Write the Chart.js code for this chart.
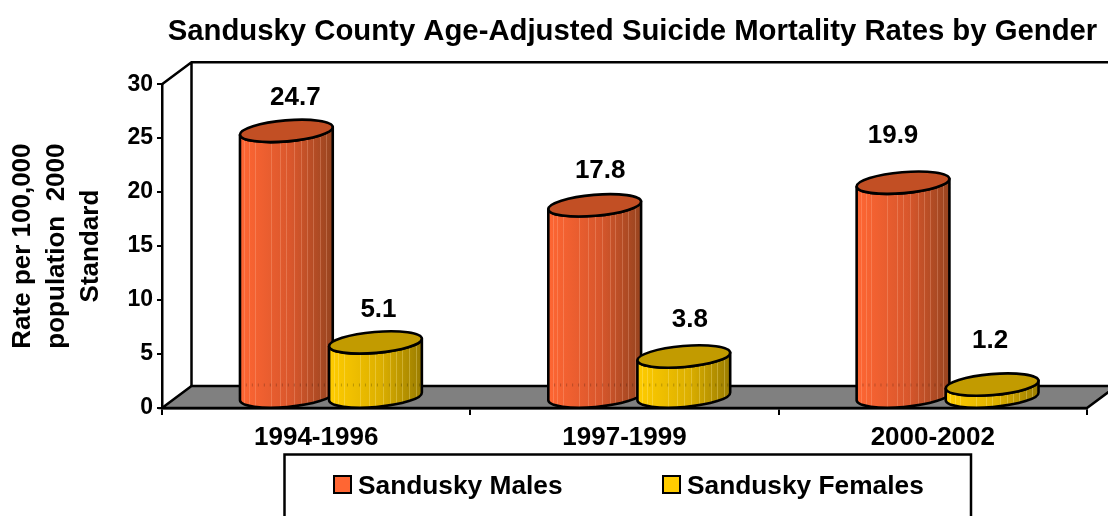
<!DOCTYPE html>
<html><head><meta charset="utf-8">
<style>html,body{margin:0;padding:0;background:#fff;overflow:hidden}#wrap{position:relative;width:1108px;height:516px}</style>
<script src="https://cdn.jsdelivr.net/npm/chart.js@4"></script>
</head><body><div id="wrap"><canvas id="c" width="1108" height="516"></canvas></div>
<script>
const chartTitle = 'Sandusky County Age-Adjusted Suicide Mortality Rates by Gender';
const categories = ['1994-1996', '1997-1999', '2000-2002'];
const seriesNames = ['Sandusky Males', 'Sandusky Females'];
const males = [24.7, 17.8, 19.9];
const females = [5.1, 3.8, 1.2];
const yTitle = ['Rate per 100,000', 'population  2000', 'Standard'];

const FONT = '"Liberation Sans", Arial, sans-serif';
const DEPTH_X = 29.5, DEPTH_Y = 22;
const BODY = [
  {light:'#FF6633', mid:'#D9572C', dark:'#97441F', cap:'#C24F24', stripe:'rgba(255,190,160,.28)'},
  {light:'#FFCC00', mid:'#DDB000', dark:'#9A7C00', cap:'#C29B00', stripe:'rgba(255,240,160,.30)'}
];
const labelNudge = [[[9,-44],[5.5,-45],[-10,-57]],[[3,-43],[6,-47],[-2,-54]]];
const stripeAt = [.05,.1,.16,.33,.43,.5,.58,.66,.72,.79,.86,.93];

function cylinder(ctx, cx, topY, baseY, rx, pal) {
  const ry = 10.5, tilt = -0.085, cy = topY - 10.5, by = baseY - 10.5;
  const ex = rx * Math.cos(tilt), ey = rx * Math.sin(tilt);
  const body = new Path2D();
  body.moveTo(cx - ex, cy - ey);
  body.lineTo(cx - ex, by - ey);
  body.ellipse(cx, by, rx, ry, tilt, Math.PI, 0, true);
  body.lineTo(cx + ex, cy + ey);
  body.ellipse(cx, cy, rx, ry, tilt, 0, Math.PI, false);
  body.closePath();
  ctx.save();
  const g = ctx.createLinearGradient(cx - rx, 0, cx + rx, 0);
  g.addColorStop(0, pal.light); g.addColorStop(.55, pal.mid); g.addColorStop(1, pal.dark);
  ctx.fillStyle = g; ctx.fill(body);
  ctx.save(); ctx.clip(body);
  ctx.strokeStyle = pal.stripe; ctx.lineWidth = 1;
  stripeAt.forEach(s => { const x = Math.round(cx - rx + 2*rx*s) + .5; ctx.beginPath(); ctx.moveTo(x, cy - 20); ctx.lineTo(x, by + 20); ctx.stroke(); });
  ctx.strokeStyle = 'rgba(0,0,0,.22)'; ctx.lineWidth = 3; ctx.setLineDash([1, 5]);
  ctx.beginPath(); ctx.moveTo(cx - rx, baseY - DEPTH_Y); ctx.lineTo(cx + rx, baseY - DEPTH_Y); ctx.stroke();
  ctx.restore();
  ctx.strokeStyle = '#000'; ctx.lineWidth = 2.6; ctx.lineJoin = 'round'; ctx.stroke(body);
  ctx.beginPath(); ctx.ellipse(cx, cy, rx, ry, tilt, 0, Math.PI*2);
  ctx.fillStyle = pal.cap; ctx.fill(); ctx.stroke();
  ctx.restore();
}

const scene = {
  id: 'scene',
  afterLayout(chart) {
    const t = chart.titleBlock, shift = 632.5 - (t.left + t.right) / 2;
    t.left += shift; t.right += shift;
  },
  beforeDatasetsDraw(chart) {
    const {ctx, chartArea: a} = chart;
    const dx = DEPTH_X, dy = DEPTH_Y;
    ctx.save();
    ctx.beginPath();
    ctx.moveTo(a.left, a.bottom); ctx.lineTo(a.left + dx, a.bottom - dy);
    ctx.lineTo(a.right + dx, a.bottom - dy); ctx.lineTo(a.right, a.bottom); ctx.closePath();
    ctx.fillStyle = '#808080'; ctx.fill();
    ctx.strokeStyle = '#000'; ctx.lineWidth = 2.5; ctx.stroke();
    ctx.beginPath();
    ctx.moveTo(a.left, a.top); ctx.lineTo(a.left + dx, a.top - dy); ctx.lineTo(a.right + dx, a.top - dy);
    ctx.moveTo(a.left + dx, a.top - dy); ctx.lineTo(a.left + dx, a.bottom - dy);
    ctx.stroke();
    ctx.restore();
  },
  afterDatasetsDraw(chart) {
    const {ctx} = chart;
    const metas = chart.data.datasets.map((_, i) => chart.getDatasetMeta(i));
    categories.forEach((_, c) => metas.forEach((m, s) => {
      const b = m.data[c];
      cylinder(ctx, b.x + DEPTH_X / 2, b.y, b.base, b.width / 2 + 2, BODY[s]);
    }));
    ctx.save();
    ctx.fillStyle = '#000'; ctx.font = 'bold 26px ' + FONT; ctx.textAlign = 'center'; ctx.textBaseline = 'middle';
    metas.forEach((m, s) => m.data.forEach((b, c) => {
      const n = labelNudge[s][c];
      ctx.fillText(chart.data.datasets[s].data[c].toFixed(1), b.x + DEPTH_X / 2 + n[0], b.y + n[1]);
    }));
    ctx.restore();
    ctx.save();
    ctx.strokeStyle = '#000'; ctx.lineWidth = 2.5;
    ctx.strokeRect(284.5, 454.5, 686.5, 80);
    ctx.lineWidth = 2;
    ctx.font = 'bold 26.3px ' + FONT; ctx.textBaseline = 'middle'; ctx.textAlign = 'left';
    [[334, 358], [663, 687]].forEach((p, i) => {
      ctx.fillStyle = BODY[i].light; ctx.fillRect(p[0], 476, 17, 17); ctx.strokeRect(p[0], 476, 17, 17);
      ctx.fillStyle = '#000'; ctx.fillText(seriesNames[i], p[1], 487);
    });
    ctx.restore();
  }
};

new Chart(document.getElementById('c'), {
  type: 'bar',
  data: { labels: categories, datasets: [
    { label: seriesNames[0], data: males, backgroundColor: 'transparent' },
    { label: seriesNames[1], data: females, backgroundColor: 'transparent' }
  ]},
  plugins: [scene],
  options: {
    responsive: false, animation: false,
    layout: { padding: { left: 0, right: 21, top: 0, bottom: 0 } },
    datasets: { bar: { barPercentage: 1, categoryPercentage: .578 } },
    plugins: {
      legend: { display: false }, tooltip: { enabled: false },
      title: { display: true, text: chartTitle, color: '#000', font: { family: FONT, size: 29.3, weight: 'bold' }, padding: { top: 14, bottom: 35 } }
    },
    scales: {
      x: {
        afterFit(s) { s.height = 108; },
        grid: { offset: true, drawOnChartArea: false, color: '#000', lineWidth: 2, tickLength: 7 },
        border: { color: '#000', width: 2.5 },
        ticks: { color: '#000', font: { family: FONT, size: 26, weight: 'bold' }, padding: 7, maxRotation: 0 }
      },
      y: {
        min: 0, max: 30,
        afterFit(s) { s.width = 162; },
        grid: { drawOnChartArea: false, color: '#000', lineWidth: 2, tickLength: 5 },
        border: { color: '#000', width: 2.5 },
        ticks: { stepSize: 5, color: '#000', font: { family: FONT, size: 23, weight: 'bold' }, padding: 4 },
        title: { display: true, text: yTitle, color: '#000', font: { family: FONT, size: 26, weight: 'bold', lineHeight: 1.31 }, padding: { top: 6, bottom: 0 } }
      }
    }
  }
});
</script></body></html>
